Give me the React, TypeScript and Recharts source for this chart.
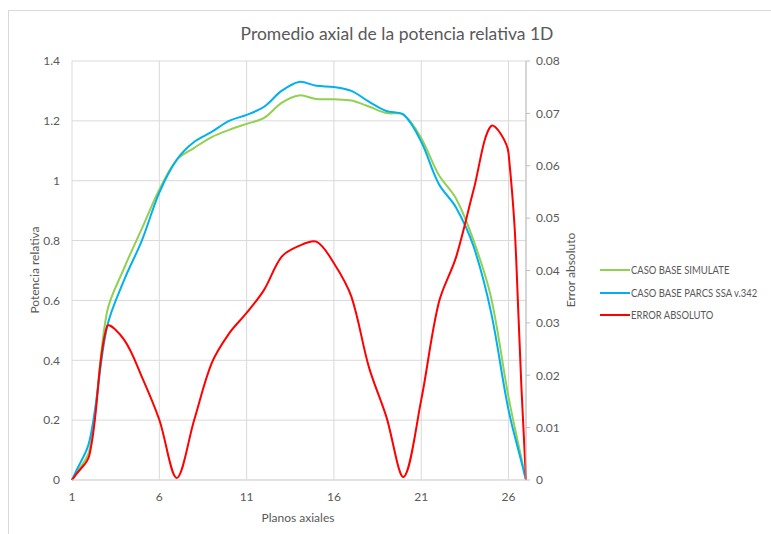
import React from "react";
import { LineChart, Line, XAxis, YAxis, CartesianGrid } from "recharts";

const planos = [1, 2, 3, 4, 5, 6, 7, 8, 9, 10, 11, 12, 13, 14, 15, 16, 17, 18, 19, 20, 21, 22, 23, 24, 25, 26, 27];
const simulate = [0, 0.1, 0.56, 0.71, 0.84, 0.97, 1.07, 1.11, 1.146, 1.17, 1.19, 1.21, 1.26, 1.285, 1.273, 1.272, 1.268, 1.248, 1.226, 1.22, 1.142, 1.02, 0.94, 0.8, 0.61, 0.277, 0];
const parcs = [0, 0.13, 0.51, 0.67, 0.8, 0.96, 1.07, 1.13, 1.163, 1.2, 1.22, 1.247, 1.3, 1.33, 1.317, 1.313, 1.3, 1.264, 1.233, 1.22, 1.13, 0.99, 0.91, 0.78, 0.56, 0.234, 0];
const errorAbs = [0, 0.0048, 0.0293, 0.0267, 0.0197, 0.0115, 0.0004, 0.0115, 0.0223, 0.028, 0.0319, 0.0363, 0.0426, 0.0447, 0.0455, 0.0414, 0.035, 0.0216, 0.0121, 0.0006, 0.0153, 0.0338, 0.0426, 0.0554, 0.0676, 0.0624, 0];

const xTicks = [1, 6, 11, 16, 21, 26];
const leftTicks = [0, 0.2, 0.4, 0.6, 0.8, 1, 1.2, 1.4];
const rightTicks = [0, 0.01, 0.02, 0.03, 0.04, 0.05, 0.06, 0.07, 0.08];

const seriesNames = ["CASO BASE SIMULATE", "CASO BASE PARCS SSA v.342", "ERROR ABSOLUTO"];
const seriesColors = ["#92D050", "#00B0F0", "#FF0000"];

const data = planos.map((p, i) => ({
  plano: p,
  simulate: simulate[i],
  parcs: parcs[i],
  error: errorAbs[i],
}));

// Excel-like smoothing: tangent from neighbours, scaled by chord lengths
function excelSmooth(context: any) {
  let pts: number[][] = [];
  const dist = (a: number[], b: number[]) => Math.hypot(b[0] - a[0], b[1] - a[1]);
  return {
    areaStart() {},
    areaEnd() {},
    lineStart() {
      pts = [];
    },
    point(x: number, y: number) {
      pts.push([+x, +y]);
    },
    lineEnd() {
      if (!pts.length) return;
      context.moveTo(pts[0][0], pts[0][1]);
      const n = pts.length;
      for (let i = 0; i < n - 1; i++) {
        const p0 = pts[Math.max(i - 1, 0)];
        const p1 = pts[i];
        const p2 = pts[i + 1];
        const p3 = pts[Math.min(i + 2, n - 1)];
        const l01 = dist(p0, p1);
        const l12 = dist(p1, p2);
        const l23 = dist(p2, p3);
        const a = l01 + l12 > 0 ? (l12 / (l01 + l12)) / 3 * (i === 0 ? 2 : 1) : 0;
        const b = l12 + l23 > 0 ? (l12 / (l12 + l23)) / 3 * (i + 2 > n - 1 ? 2 : 1) : 0;
        context.bezierCurveTo(
          p1[0] + (p2[0] - p0[0]) * a,
          p1[1] + (p2[1] - p0[1]) * a,
          p2[0] - (p3[0] - p1[0]) * b,
          p2[1] - (p3[1] - p1[1]) * b,
          p2[0],
          p2[1]
        );
      }
    },
  };
}

const FONT = "Lato, 'Open Sans', sans-serif";
const GREY = "#595959";
const tickStyle = { fontSize: 12, fill: GREY, fontFamily: FONT };

export default function App() {
  return (
    <div
      style={{
        position: "absolute",
        left: 0,
        top: 0,
        width: 771,
        height: 534,
        background: "#fff",
        fontFamily: FONT,
        color: GREY,
        overflow: "hidden",
      }}
    >
      <div
        style={{
          position: "absolute",
          left: 8,
          top: 10,
          width: 771,
          height: 534,
          borderLeft: "1px solid #d9d9d9",
          borderTop: "1px solid #d9d9d9",
        }}
      />
      <div
        style={{
          position: "absolute",
          left: 397,
          top: 33,
          transform: "translate(-50%, -50%)",
          fontSize: 17.5,
          whiteSpace: "nowrap",
        }}
      >
        Promedio axial de la potencia relativa 1D
      </div>
      <div
        style={{
          position: "absolute",
          left: 34,
          top: 270,
          transform: "translate(-50%, -50%) rotate(-90deg)",
          fontSize: 12,
          whiteSpace: "nowrap",
        }}
      >
        Potencia relativa
      </div>
      <div
        style={{
          position: "absolute",
          left: 570,
          top: 270,
          transform: "translate(-50%, -50%) rotate(-90deg)",
          fontSize: 12,
          whiteSpace: "nowrap",
        }}
      >
        Error absoluto
      </div>
      <div
        style={{
          position: "absolute",
          left: 298,
          top: 517,
          transform: "translate(-50%, -50%)",
          fontSize: 12,
          whiteSpace: "nowrap",
        }}
      >
        Planos axiales
      </div>

      <div style={{ position: "absolute", left: 0, top: 0 }}>
        <LineChart
          width={771}
          height={534}
          data={data}
          margin={{ top: 61, right: 205, bottom: 24, left: 32 }}
        >
          <CartesianGrid stroke="#d9d9d9" yAxisId="left" />
          <XAxis
            dataKey="plano"
            type="number"
            domain={[1, 27]}
            ticks={xTicks}
            height={30}
            tick={tickStyle}
            tickLine={false}
            tickMargin={6}
            axisLine={{ stroke: "#d9d9d9" }}
          />
          <YAxis
            yAxisId="left"
            domain={[0, 1.4]}
            ticks={leftTicks}
            width={40}
            tick={tickStyle}
            axisLine={false}
            tickLine={false}
            tickMargin={6}
          />
          <YAxis
            yAxisId="right"
            orientation="right"
            domain={[0, 0.08]}
            ticks={rightTicks}
            width={40}
            tick={tickStyle}
            axisLine={{ stroke: "#bfbfbf" }}
            tickLine={{ stroke: "#bfbfbf" }}
            tickSize={4}
            tickMargin={6}
          />
          <Line
            yAxisId="left"
            type={excelSmooth as any}
            dataKey="simulate"
            stroke={seriesColors[0]}
            strokeWidth={2}
            dot={false}
            isAnimationActive={false}
          />
          <Line
            yAxisId="left"
            type={excelSmooth as any}
            dataKey="parcs"
            stroke={seriesColors[1]}
            strokeWidth={2}
            dot={false}
            isAnimationActive={false}
          />
          <Line
            yAxisId="right"
            type={excelSmooth as any}
            dataKey="error"
            stroke={seriesColors[2]}
            strokeWidth={2}
            dot={false}
            isAnimationActive={false}
          />
        </LineChart>
      </div>

      {seriesNames.map((name, i) => (
        <div
          key={name}
          style={{
            position: "absolute",
            left: 600,
            top: 270 + i * 22.5,
            transform: "translateY(-50%)",
            display: "flex",
            alignItems: "center",
            whiteSpace: "nowrap",
          }}
        >
          <span
            style={{
              display: "inline-block",
              width: 30,
              height: 2,
              background: seriesColors[i],
              marginRight: 1,
            }}
          />
          <span
            style={{
              display: "inline-block",
              fontSize: 10.5,
              transform: "scaleX(0.9)",
              transformOrigin: "left center",
            }}
          >
            {name}
          </span>
        </div>
      ))}
    </div>
  );
}
